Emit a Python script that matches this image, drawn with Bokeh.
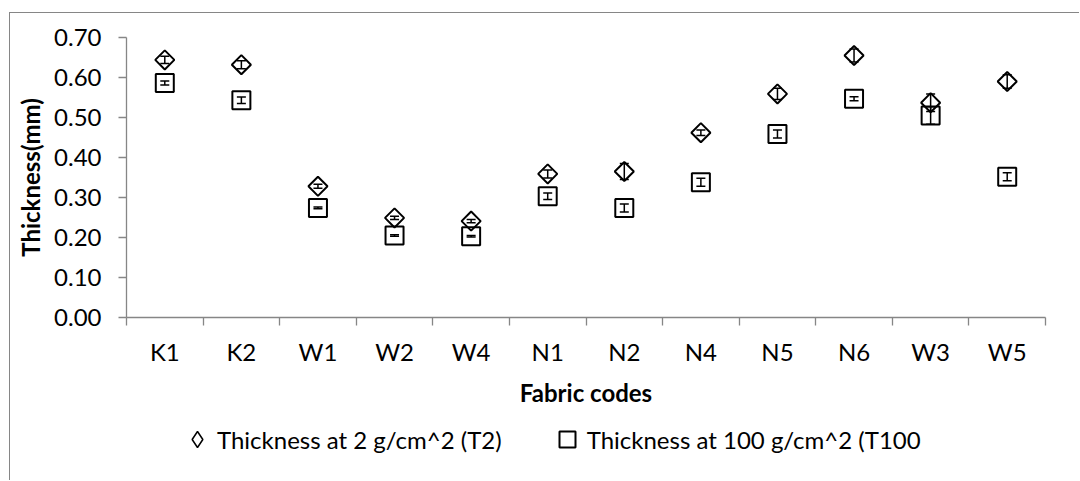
import numpy as np
from bokeh.plotting import figure
from bokeh.layouts import column
from bokeh.models import (ColumnDataSource, Range1d, FixedTicker, NumeralTickFormatter,
                          Whisker, TeeHead, Legend, LegendItem)
from bokeh.embed import file_html
from bokeh.resources import INLINE

codes = ["K1", "K2", "W1", "W2", "W4", "N1", "N2", "N4", "N5", "N6", "W3", "W5"]
t2 = [0.644, 0.632, 0.328, 0.249, 0.241, 0.359, 0.365, 0.462, 0.559, 0.655, 0.537, 0.590]
t2_err = [0.009, 0.010, 0.005, 0.004, 0.004, 0.010, 0.020, 0.007, 0.014, 0.016, 0.022, 0.017]
t100 = [0.586, 0.543, 0.274, 0.205, 0.203, 0.303, 0.274, 0.338, 0.459, 0.547, 0.505, 0.352]
t100_err = [0.005, 0.008, 0.002, 0.002, 0.002, 0.008, 0.010, 0.010, 0.010, 0.005, 0.022, 0.010]
y_ticks = [0.0, 0.1, 0.2, 0.3, 0.4, 0.5, 0.6, 0.7]
label_t2 = "Thickness at 2 g/cm^2 (T2)"
label_t100 = "Thickness at 100 g/cm^2 (T100"

FONT = "Lato"
AXIS_COLOR = "#868686"

x = list(range(1, len(codes) + 1))
src = ColumnDataSource(dict(
    x=x, t2=t2, t100=t100,
    t2_lo=[v - e for v, e in zip(t2, t2_err)], t2_hi=[v + e for v, e in zip(t2, t2_err)],
    t100_lo=[v - e for v, e in zip(t100, t100_err)], t100_hi=[v + e for v, e in zip(t100, t100_err)],
))

p = figure(width=1069, height=410, output_backend="svg", toolbar_location=None,
           x_range=Range1d(0.5, len(codes) + 0.5), y_range=Range1d(0, 0.7),
           min_border_left=116, min_border_right=34, min_border_top=24, min_border_bottom=106)
p.grid.visible = False
p.outline_line_color = None
p.background_fill_color = "white"
p.border_fill_color = "white"

# Error bars
for lo, hi in (("t2_lo", "t2_hi"), ("t100_lo", "t100_hi")):
    w = Whisker(source=src, base="x", lower=lo, upper=hi, dimension="height",
                line_color="black", line_width=1.5,
                upper_head=TeeHead(size=9, line_color="black", line_width=1.5),
                lower_head=TeeHead(size=9, line_color="black", line_width=1.5))
    p.add_layout(w)

r_t2 = p.scatter("x", "t2", source=src, marker="square", size=13.5, angle=np.pi / 4,
                 fill_color=None, line_color="black", line_width=2)
r_t100 = p.scatter("x", "t100", source=src, marker="square", size=18,
                   fill_color=None, line_color="black", line_width=2)

# x axis: boundary ticks as minor ticks, labels at centers
xa = p.xaxis[0]
xa.ticker = FixedTicker(ticks=x, minor_ticks=[i + 0.5 for i in range(0, len(codes) + 1)])
xa.major_label_overrides = {i: c for i, c in zip(x, codes)}
xa.major_tick_out = 0
xa.major_tick_in = 0
xa.minor_tick_out = 8
xa.minor_tick_in = 0
xa.major_label_standoff = 11
xa.axis_label = "Fabric codes"
xa.axis_label_standoff = 9

ya = p.yaxis[0]
ya.ticker = FixedTicker(ticks=y_ticks, minor_ticks=[])
ya.formatter = NumeralTickFormatter(format="0.00")
ya.major_tick_out = 8
ya.major_tick_in = 0
ya.minor_tick_out = 0
ya.minor_tick_in = 0
ya.major_label_standoff = 17
ya.axis_label = "Thickness(mm)"
ya.axis_label_standoff = 6

for ax in (xa, ya):
    ax.axis_line_color = AXIS_COLOR
    ax.axis_line_width = 1.3
    ax.major_tick_line_color = AXIS_COLOR
    ax.major_tick_line_width = 1.3
    ax.minor_tick_line_color = AXIS_COLOR
    ax.minor_tick_line_width = 1.3
    ax.major_label_text_font = FONT
    ax.major_label_text_font_size = "24px"
    ax.major_label_text_color = "black"
    ax.axis_label_text_font = FONT
    ax.axis_label_text_font_size = "24px"
    ax.axis_label_text_font_style = "bold"
    ax.axis_label_text_color = "black"

# Legend strip (separate figure so the legend is not clipped)
p2 = figure(width=1069, height=57, output_backend="svg", toolbar_location=None,
            x_axis_type=None, y_axis_type=None, x_range=Range1d(0, 1), y_range=Range1d(0, 1),
            min_border=0, min_border_left=0, min_border_right=0, min_border_top=0, min_border_bottom=0)
p2.grid.visible = False
p2.outline_line_color = None
p2.border_fill_color = "white"
proxy_d = p2.scatter(x=[np.nan], y=[np.nan], marker="diamond", size=10,
                     fill_color=None, line_color="black", line_width=1.5)
proxy_s = p2.scatter(x=[np.nan], y=[np.nan], marker="square", size=10,
                     fill_color=None, line_color="black", line_width=2)
legend = Legend(items=[LegendItem(label=label_t2, renderers=[proxy_d]),
                       LegendItem(label=label_t100, renderers=[proxy_s])],
                orientation="horizontal", location=(51, 21),
                glyph_width=40, glyph_height=40, label_standoff=-19, spacing=45,
                padding=0, margin=0, border_line_color=None, background_fill_alpha=0,
                label_text_font=FONT, label_text_font_size="24px", label_text_color="black")
p2.add_layout(legend, "center")

layout = column(p, p2, spacing=0,
                styles={"border-left": "1.5px solid #868686", "border-top": "1.5px solid #868686",
                        "margin-left": "9px", "margin-top": "12px"})

open("out.html", "w").write(file_html(layout, INLINE))
